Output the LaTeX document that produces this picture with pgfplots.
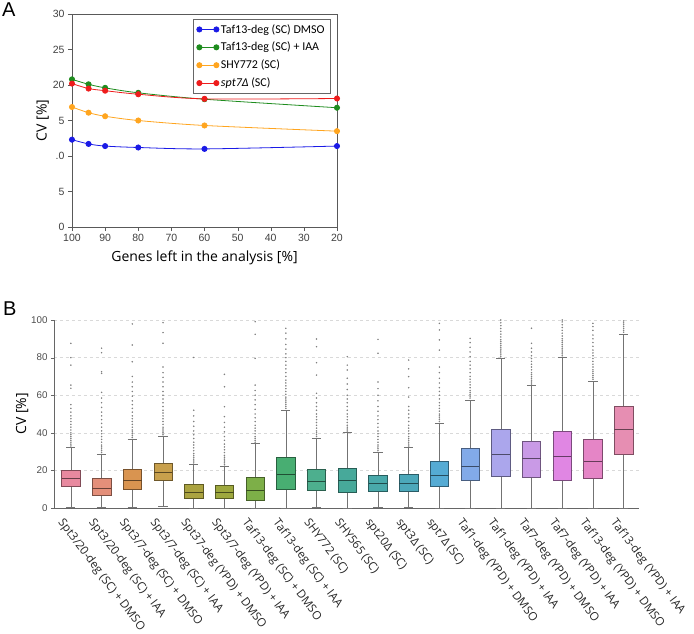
\documentclass[border=0pt]{standalone}
\usepackage{fontspec}
\setmainfont{Open Sans}
\newfontfamily\calib{Carlito}
\newfontfamily\arial{Liberation Sans}
\usepackage{pgfplots}
\usepgfplotslibrary{statistics}
\pgfplotsset{compat=1.18}

\definecolor{cblue}{HTML}{1A1AE6}
\definecolor{cgreen}{HTML}{1E8C1E}
\definecolor{corange}{HTML}{FFA51F}
\definecolor{cred}{HTML}{EE1C1C}

\definecolor{c1}{HTML}{E8899F}
\definecolor{c2}{HTML}{E48F7A}
\definecolor{c3}{HTML}{D99450}
\definecolor{c4}{HTML}{C8A04C}
\definecolor{c5}{HTML}{ABA340}
\definecolor{c6}{HTML}{9EA83E}
\definecolor{c7}{HTML}{7DAF48}
\definecolor{c8}{HTML}{48AE72}
\definecolor{c9}{HTML}{4DAF8E}
\definecolor{c10}{HTML}{47A99A}
\definecolor{c11}{HTML}{49A9AA}
\definecolor{c12}{HTML}{4CA8BA}
\definecolor{c13}{HTML}{55ABD4}
\definecolor{c14}{HTML}{82AAE8}
\definecolor{c15}{HTML}{ABA6EC}
\definecolor{c16}{HTML}{C99AE6}
\definecolor{c17}{HTML}{E086E3}
\definecolor{c18}{HTML}{E585C6}
\definecolor{c19}{HTML}{E68EB2}

\pgfplotsset{
  bx/.style={color=black!50, mark=*, mark size=0.42pt, line width=0.6pt,
    mark options={fill=black!50, draw=none},
    boxplot/every box/.style={fill=#1, draw=#1!55!black, line width=0.6pt},
    boxplot/every whisker/.style={draw=black!55, line width=0.6pt},
    boxplot/every median/.style={draw=#1!45!black, line width=0.8pt}},
}

\begin{document}
\begin{tikzpicture}
\useasboundingbox (0,0) rectangle (694pt,-633pt);

\node[anchor=north west, inner sep=0pt, font=\arial\fontsize{20}{24}\selectfont] at (2pt,-3pt) {A};
\node[anchor=north west, inner sep=0pt, font=\arial\fontsize{20}{24}\selectfont] at (3pt,-302pt) {B};

% ---------------- Panel A ----------------
\begin{axis}[
  at={(72pt,-227pt)}, anchor=south west,
  scale only axis, width=265pt, height=213pt,
  x dir=reverse, xmin=20, xmax=100, ymin=0, ymax=30,
  xtick={20,30,...,100}, ytick={0,5,...,30},
  xticklabels={20,30,40,50,60,70,80,90,100},
  yticklabels={0,5,.0,5,20,25,30},
  tick align=outside, tick pos=left, major tick length=4pt,
  axis line style={draw=black!65}, tick style={draw=black!65},
  ticklabel style={font=\arial\fontsize{10.5}{12}\selectfont, text=black!75},
  xlabel={Genes left in the analysis [\%]}, ylabel={CV [\%]},
  xlabel style={yshift=-2pt}, ylabel style={yshift=-3pt},
  label style={font=\fontsize{14}{16}\selectfont},
  legend style={at={(0.977,0.976)}, anchor=north east, draw=black!60,
    font=\calib\fontsize{12}{14}\selectfont, row sep=3.6pt, inner xsep=4pt, inner ysep=3pt},
  legend cell align=left,
  legend image code/.code={\draw[#1] plot coordinates {(0pt,0pt) (17pt,0pt)};},
]
\addplot[color=cblue, mark=*, mark size=2.6pt, smooth, line width=0.8pt]
  coordinates {(100,12.3)(95,11.7)(90,11.4)(80,11.2)(60,11.0)(20,11.4)};
\addlegendentry{Taf13-deg (SC) DMSO}
\addplot[color=cgreen, mark=*, mark size=2.6pt, smooth, line width=0.8pt]
  coordinates {(100,20.8)(95,20.1)(90,19.6)(80,18.9)(60,18.0)(20,16.8)};
\addlegendentry{Taf13-deg (SC) + IAA}
\addplot[color=corange, mark=*, mark size=2.6pt, smooth, line width=0.8pt]
  coordinates {(100,16.9)(95,16.1)(90,15.6)(80,15.0)(60,14.3)(20,13.5)};
\addlegendentry{SHY772 (SC)}
\addplot[color=cred, mark=*, mark size=2.6pt, smooth, line width=0.8pt]
  coordinates {(100,20.2)(95,19.5)(90,19.2)(80,18.7)(60,18.05)(20,18.1)};
\addlegendentry{\textit{spt7Δ} (SC)}
\end{axis}

% ---------------- Panel B ----------------
\begin{axis}[
  at={(54pt,-508pt)}, anchor=south west,
  scale only axis, width=585pt, height=188pt,
  xmin=-0.55, xmax=18.5, ymin=0, ymax=100,
  axis x line*=bottom, axis y line*=left,
  axis line style={draw=black!60},
  ytick={0,20,...,100}, yticklabels={0,20,40,60,80,100},
  xtick={0,...,18},
  xticklabels={Spt3/20-deg (SC) + DMSO, Spt3/20-deg (SC) + IAA, Spt3/7-deg (SC) + DMSO,
    Spt3/7-deg (SC) + IAA, Spt37-deg (YPD) + DMSO, Spt3/7-deg (YPD) + IAA,
    Taf13-deg (SC) + DMSO, Taf13-deg (SC) + IAA, SHY772 (SC), SHY565 (SC),
    spt20Δ (SC), spt3Δ (SC), spt7Δ (SC), Taf1-deg (YPD) + DMSO, Taf1-deg (YPD) + IAA,
    Taf7-deg (YPD) + DMSO, Taf7-deg (YPD) + IAA, Taf13-deg (YPD) + DMSO, Taf13-deg (YPD) + IAA},
  x tick label style={rotate=-53, anchor=north west, yshift=-5pt, xshift=-2pt, font=\fontsize{11.6}{13}\selectfont, text=black!85},
  y tick label style={font=\arial\fontsize{9.8}{12}\selectfont, text=black!70},
  xtick style={draw=none}, ytick style={draw=black!60},
  tick align=outside, major tick length=3pt,
  ymajorgrids, grid style={dashed, black!15},
  ylabel={CV [\%]}, ylabel style={yshift=-4pt}, label style={font=\fontsize{14}{16}\selectfont},
  clip=false,
  boxplot/draw direction=y,
]
\addplot[bx=c1, boxplot prepared={draw position=0, median=16.0, upper quartile=19.9, lower quartile=11.5, upper whisker=32.1, lower whisker=0.4, box extend=0.6, whisker extend=0.3}]
  table[row sep=\\, y index=0]{v\\ 33\\ 34\\ 35\\ 36\\ 37\\ 38\\ 39\\ 40\\ 41.5\\ 43\\ 44.5\\ 46\\ 47.5\\ 49\\ 51\\ 53\\ 55\\ 63.7\\ 65.4\\ 76\\ 80\\ 87.6\\};
\addplot[bx=c2, boxplot prepared={draw position=1, median=10.6, upper quartile=15.6, lower quartile=6.7, upper whisker=28.7, lower whisker=0.2, box extend=0.6, whisker extend=0.3}]
  table[row sep=\\, y index=0]{v\\ 29.5\\ 30.5\\ 31.5\\ 32.5\\ 33.5\\ 35\\ 36.5\\ 38\\ 39.5\\ 41\\ 43\\ 45\\ 47\\ 49\\ 51\\ 53.5\\ 56\\ 58.5\\ 61.5\\ 71.6\\ 72.5\\ 82.6\\ 85\\};
\addplot[bx=c3, boxplot prepared={draw position=2, median=14.9, upper quartile=20.6, lower quartile=9.9, upper whisker=36.5, lower whisker=0.4, box extend=0.6, whisker extend=0.3}]
  table[row sep=\\, y index=0]{v\\ 37.5\\ 38.5\\ 39.5\\ 40.5\\ 41.5\\ 43\\ 44.5\\ 46\\ 47.5\\ 49\\ 51\\ 53\\ 55\\ 57\\ 59.5\\ 62\\ 64.5\\ 67\\ 70\\ 77.8\\ 86.7\\ 97.9\\};
\addplot[bx=c4, boxplot prepared={draw position=3, median=19.0, upper quartile=23.9, lower quartile=14.5, upper whisker=38.1, lower whisker=0.7, box extend=0.6, whisker extend=0.3}]
  table[row sep=\\, y index=0]{v\\ 39\\ 40\\ 41\\ 42\\ 43\\ 44.5\\ 46\\ 47.5\\ 49\\ 50.5\\ 52\\ 54\\ 56\\ 58\\ 60\\ 62\\ 64.5\\ 67\\ 69.5\\ 72\\ 75\\ 87.6\\ 93.3\\ 98.6\\};
\addplot[bx=c5, boxplot prepared={draw position=4, median=8.2, upper quartile=12.4, lower quartile=5.0, upper whisker=23.2, lower whisker=0.1, box extend=0.6, whisker extend=0.3}]
  table[row sep=\\, y index=0]{v\\ 24\\ 25\\ 26\\ 27\\ 28\\ 29\\ 30.5\\ 32\\ 33.5\\ 35\\ 37\\ 39\\ 41\\ 43.5\\ 46\\ 49\\ 52\\ 80.1\\};
\addplot[bx=c6, boxplot prepared={draw position=5, median=8.2, upper quartile=11.9, lower quartile=5.0, upper whisker=22.3, lower whisker=0.1, box extend=0.6, whisker extend=0.3}]
  table[row sep=\\, y index=0]{v\\ 23\\ 24\\ 25\\ 26\\ 27\\ 28\\ 29.5\\ 31\\ 32.5\\ 34\\ 36\\ 38\\ 40.5\\ 43\\ 45.5\\ 48.6\\ 53.9\\ 64.5\\ 71.1\\};
\addplot[bx=c7, boxplot prepared={draw position=6, median=9.4, upper quartile=16.1, lower quartile=4.3, upper whisker=34.2, lower whisker=0.1, box extend=0.6, whisker extend=0.3}]
  table[row sep=\\, y index=0]{v\\ 35\\ 36\\ 37\\ 38\\ 39.5\\ 41\\ 42.5\\ 44\\ 46\\ 48\\ 50\\ 52.5\\ 55\\ 57.5\\ 60\\ 62.5\\ 65.4\\ 79.6\\ 92.4\\ 99.1\\};
\addplot[bx=c8, boxplot prepared={draw position=7, median=17.9, upper quartile=26.8, lower quartile=9.9, upper whisker=52.1, lower whisker=0.1, box extend=0.6, whisker extend=0.3}]
  table[row sep=\\, y index=0]{v\\ 53\\ 54\\ 55\\ 56\\ 57\\ 58\\ 59\\ 60.5\\ 62\\ 63.5\\ 65\\ 66.5\\ 68\\ 70\\ 72\\ 74\\ 76\\ 78\\ 80\\ 82\\ 84.5\\ 87\\ 90\\ 93\\ 95.6\\};
\addplot[bx=c9, boxplot prepared={draw position=8, median=14.2, upper quartile=20.4, lower quartile=9.4, upper whisker=37.1, lower whisker=0.3, box extend=0.6, whisker extend=0.3}]
  table[row sep=\\, y index=0]{v\\ 38\\ 39\\ 40\\ 41\\ 42.5\\ 44\\ 45.5\\ 47\\ 48.5\\ 50\\ 52\\ 54\\ 56\\ 58.5\\ 61\\ 70.7\\ 77.3\\ 85.8\\ 89.9\\};
\addplot[bx=c10, boxplot prepared={draw position=9, median=14.5, upper quartile=21.1, lower quartile=8.2, upper whisker=40.1, lower whisker=0.1, box extend=0.6, whisker extend=0.3}]
  table[row sep=\\, y index=0]{v\\ 41\\ 42\\ 43\\ 44\\ 45.5\\ 47\\ 48.5\\ 50\\ 52\\ 54\\ 56\\ 58\\ 60\\ 63\\ 66\\ 69\\ 73.4\\ 76\\ 80.5\\};
\addplot[bx=c11, boxplot prepared={draw position=10, median=13.3, upper quartile=17.2, lower quartile=9.0, upper whisker=29.4, lower whisker=0.4, box extend=0.6, whisker extend=0.3}]
  table[row sep=\\, y index=0]{v\\ 30.5\\ 31.5\\ 32.5\\ 33.5\\ 35\\ 36.5\\ 38\\ 39.5\\ 41\\ 43\\ 45\\ 47\\ 49\\ 51.5\\ 54\\ 57\\ 60\\ 63.5\\ 67\\ 82.3\\ 89.7\\};
\addplot[bx=c12, boxplot prepared={draw position=11, median=13.3, upper quartile=18.1, lower quartile=8.7, upper whisker=32.3, lower whisker=0.4, box extend=0.6, whisker extend=0.3}]
  table[row sep=\\, y index=0]{v\\ 33\\ 34\\ 35\\ 36\\ 37\\ 38\\ 39.5\\ 41\\ 42.5\\ 44\\ 46\\ 48\\ 50\\ 52\\ 54\\ 59\\ 64\\ 69.9\\ 74\\ 78.7\\};
\addplot[bx=c13, boxplot prepared={draw position=12, median=17.6, upper quartile=24.8, lower quartile=11.5, upper whisker=44.9, lower whisker=0.1, box extend=0.6, whisker extend=0.3}]
  table[row sep=\\, y index=0]{v\\ 46\\ 47\\ 48\\ 49\\ 50\\ 51.5\\ 53\\ 54.5\\ 56\\ 58\\ 60\\ 62\\ 64\\ 66.5\\ 69\\ 72\\ 75\\ 84\\ 89.4\\ 94.7\\ 98.2\\};
\addplot[bx=c14, boxplot prepared={draw position=13, median=22.3, upper quartile=31.7, lower quartile=14.5, upper whisker=57.4, lower whisker=0.1, box extend=0.6, whisker extend=0.3}]
  table[row sep=\\, y index=0]{v\\ 58.5\\ 59.5\\ 60.5\\ 61.5\\ 62.5\\ 64\\ 65.5\\ 67\\ 68.5\\ 70\\ 72\\ 74\\ 76\\ 78\\ 80.5\\ 83\\ 85.5\\ 88\\ 90.2\\};
\addplot[bx=c15, boxplot prepared={draw position=14, median=28.7, upper quartile=42.0, lower quartile=17.0, upper whisker=79.4, lower whisker=0.1, box extend=0.6, whisker extend=0.3}]
  table[row sep=\\, y index=0]{v\\ 80.5\\ 81.5\\ 82.5\\ 83.5\\ 84.5\\ 85.5\\ 86.5\\ 87.5\\ 88.5\\ 89.5\\ 91\\ 92.5\\ 94\\ 95.5\\ 97\\ 98.5\\ 100\\};
\addplot[bx=c16, boxplot prepared={draw position=15, median=26.2, upper quartile=35.6, lower quartile=16.3, upper whisker=65.2, lower whisker=0.1, box extend=0.6, whisker extend=0.3}]
  table[row sep=\\, y index=0]{v\\ 66\\ 67\\ 68\\ 69\\ 70\\ 71\\ 72\\ 73.5\\ 75\\ 76.5\\ 78\\ 79.5\\ 81\\ 83\\ 85\\ 87.6\\ 95.6\\};
\addplot[bx=c17, boxplot prepared={draw position=16, median=27.7, upper quartile=41.0, lower quartile=14.7, upper whisker=80.0, lower whisker=0.1, box extend=0.6, whisker extend=0.3}]
  table[row sep=\\, y index=0]{v\\ 81\\ 82\\ 83\\ 84\\ 85\\ 86\\ 87\\ 88\\ 89\\ 90\\ 91.5\\ 93\\ 94.5\\ 96\\ 97.5\\ 99\\ 100\\};
\addplot[bx=c18, boxplot prepared={draw position=17, median=25.0, upper quartile=36.5, lower quartile=15.8, upper whisker=67.6, lower whisker=0.1, box extend=0.6, whisker extend=0.3}]
  table[row sep=\\, y index=0]{v\\ 68.5\\ 69.5\\ 70.5\\ 71.5\\ 72.5\\ 73.5\\ 75\\ 76.5\\ 78\\ 79.5\\ 81\\ 82.5\\ 84\\ 86\\ 88\\ 90\\ 92\\ 94.5\\ 96.5\\ 98.2\\};
\addplot[bx=c19, boxplot prepared={draw position=18, median=42.0, upper quartile=54.1, lower quartile=28.5, upper whisker=92.4, lower whisker=0.1, box extend=0.6, whisker extend=0.3}]
  table[row sep=\\, y index=0]{v\\ 93.5\\ 94.5\\ 95.5\\ 96.5\\ 97.5\\ 98.5\\ 99.5\\};
\end{axis}
\end{tikzpicture}
\end{document}
